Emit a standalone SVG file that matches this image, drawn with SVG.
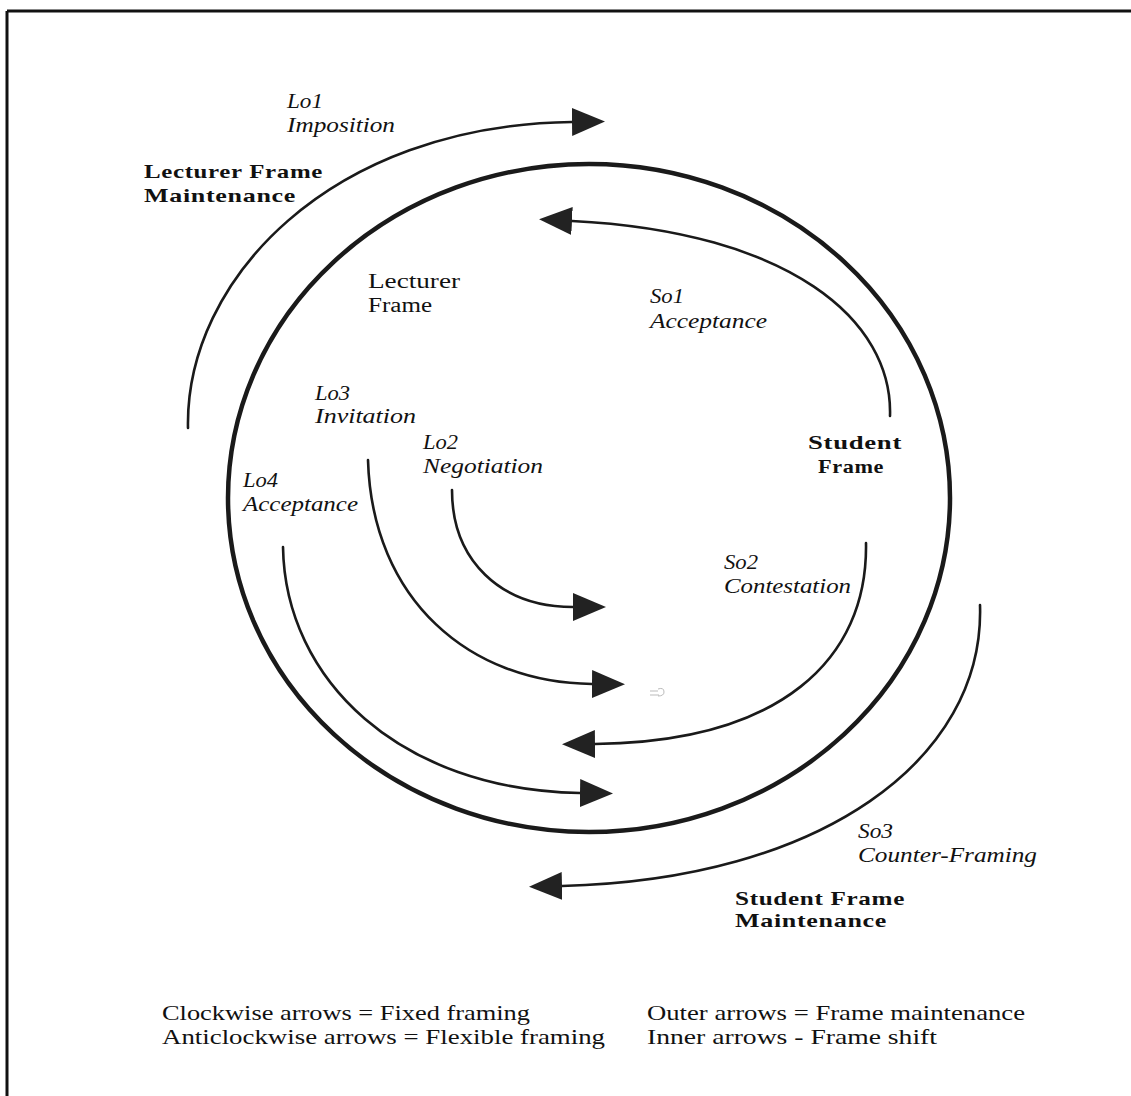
<svg xmlns="http://www.w3.org/2000/svg" width="1131" height="1096" viewBox="0 0 1131 1096">
  <style>
    .lbl { font-family: "Liberation Serif", "Times New Roman", serif; fill: #111; }
    .it { font-style: italic; font-size: 20px; }
    .rg { font-size: 20px; }
    .bd { font-weight: bold; font-size: 19px; letter-spacing: 0.5px; }
    .lg { font-size: 22px; }
    .arc { fill: none; stroke: #1a1a1a; stroke-width: 2.6; stroke-linecap: round; }
    .ring { fill: none; stroke: #1a1a1a; stroke-width: 4.5; }
    .edge { stroke: #111; stroke-width: 3; }
  </style>
  <defs>
    <marker id="head" markerUnits="userSpaceOnUse" markerWidth="40" markerHeight="32" refX="0" refY="14" orient="auto" viewBox="0 0 40 28">
      <path d="M0,0 L33,14 L0,28 Z" fill="#222"/>
    </marker>
  </defs>
  <rect x="0" y="0" width="1131" height="1096" fill="#fff"/>

  <!-- page frame: top and left rules -->
  <g id="frame">
    <line class="edge" x1="7" y1="11" x2="1131" y2="11"/>
    <line class="edge" x1="7" y1="11" x2="7" y2="1096"/>
  </g>

  <!-- central frame ellipse -->
  <g id="ring">
    <ellipse class="ring" cx="589" cy="498" rx="361" ry="334"/>
  </g>

  <!-- connectors -->
  <g id="connectors">
    <!-- Lo1 outer, clockwise -->
    <path class="arc" d="M188,428 C185,280 330,125 572,122" marker-end="url(#head)"/>
    <!-- So1 inner, anticlockwise -->
    <path class="arc" d="M890,416 C893,320 790,232 572,221" marker-end="url(#head)"/>
    <!-- Lo2 inner -->
    <path class="arc" d="M452,490 C452,560 500,607 573,607" marker-end="url(#head)"/>
    <!-- Lo3 inner -->
    <path class="arc" d="M368,460 C372,600 470,683 592,684" marker-end="url(#head)"/>
    <!-- So2 inner -->
    <path class="arc" d="M866,543 C868,660 780,742 595,744" marker-end="url(#head)"/>
    <!-- Lo4 inner -->
    <path class="arc" d="M283,547 C285,680 400,790 580,793" marker-end="url(#head)"/>
    <!-- So3 outer -->
    <path class="arc" d="M980,605 C985,760 820,880 562,886" marker-end="url(#head)"/>
  </g>

  <!-- small scan mark -->
  <path d="M650,691 h8 M650,695 h9 M658,689 q6,-2 6,3 q0,4 -6,4" fill="none" stroke="#aaa" stroke-width="0.8"/>

  <g id="lo1" class="lbl">
    <text class="it" x="287" y="108" textLength="36" lengthAdjust="spacingAndGlyphs">Lo1</text>
    <text class="it" x="287" y="132" textLength="108" lengthAdjust="spacingAndGlyphs">Imposition</text>
  </g>
  <g id="lecturer-maintenance" class="lbl">
    <text class="bd" x="144" y="178" textLength="179" lengthAdjust="spacingAndGlyphs">Lecturer Frame</text>
    <text class="bd" x="144" y="202" textLength="152" lengthAdjust="spacingAndGlyphs">Maintenance</text>
  </g>
  <g id="lecturer-frame" class="lbl">
    <text class="rg" x="368" y="288" textLength="92" lengthAdjust="spacingAndGlyphs">Lecturer</text>
    <text class="rg" x="368" y="312" textLength="64" lengthAdjust="spacingAndGlyphs">Frame</text>
  </g>
  <g id="so1" class="lbl">
    <text class="it" x="650" y="303" textLength="34" lengthAdjust="spacingAndGlyphs">So1</text>
    <text class="it" x="650" y="328" textLength="117" lengthAdjust="spacingAndGlyphs">Acceptance</text>
  </g>
  <g id="lo3" class="lbl">
    <text class="it" x="315" y="400" textLength="35" lengthAdjust="spacingAndGlyphs">Lo3</text>
    <text class="it" x="315" y="423" textLength="101" lengthAdjust="spacingAndGlyphs">Invitation</text>
  </g>
  <g id="lo2" class="lbl">
    <text class="it" x="423" y="449" textLength="35" lengthAdjust="spacingAndGlyphs">Lo2</text>
    <text class="it" x="423" y="473" textLength="120" lengthAdjust="spacingAndGlyphs">Negotiation</text>
  </g>
  <g id="lo4" class="lbl">
    <text class="it" x="243" y="487" textLength="35" lengthAdjust="spacingAndGlyphs">Lo4</text>
    <text class="it" x="243" y="511" textLength="115" lengthAdjust="spacingAndGlyphs">Acceptance</text>
  </g>
  <g id="student-frame" class="lbl">
    <text class="bd" x="808" y="449" textLength="94" lengthAdjust="spacingAndGlyphs">Student</text>
    <text class="bd" x="818" y="473" textLength="66" lengthAdjust="spacingAndGlyphs">Frame</text>
  </g>
  <g id="so2" class="lbl">
    <text class="it" x="724" y="569" textLength="34" lengthAdjust="spacingAndGlyphs">So2</text>
    <text class="it" x="724" y="593" textLength="127" lengthAdjust="spacingAndGlyphs">Contestation</text>
  </g>
  <g id="so3" class="lbl">
    <text class="it" x="858" y="838" textLength="35" lengthAdjust="spacingAndGlyphs">So3</text>
    <text class="it" x="858" y="862" textLength="179" lengthAdjust="spacingAndGlyphs">Counter-Framing</text>
  </g>
  <g id="student-maintenance" class="lbl">
    <text class="bd" x="735" y="905" textLength="170" lengthAdjust="spacingAndGlyphs">Student Frame</text>
    <text class="bd" x="735" y="927" textLength="152" lengthAdjust="spacingAndGlyphs">Maintenance</text>
  </g>

  <g id="legend" class="lbl">
    <text class="lg" x="162" y="1020" textLength="368" lengthAdjust="spacingAndGlyphs">Clockwise arrows = Fixed framing</text>
    <text class="lg" x="162" y="1044" textLength="443" lengthAdjust="spacingAndGlyphs">Anticlockwise arrows = Flexible framing</text>
    <text class="lg" x="647" y="1020" textLength="378" lengthAdjust="spacingAndGlyphs">Outer arrows = Frame maintenance</text>
    <text class="lg" x="647" y="1044" textLength="290" lengthAdjust="spacingAndGlyphs">Inner arrows - Frame shift</text>
  </g>
</svg>
